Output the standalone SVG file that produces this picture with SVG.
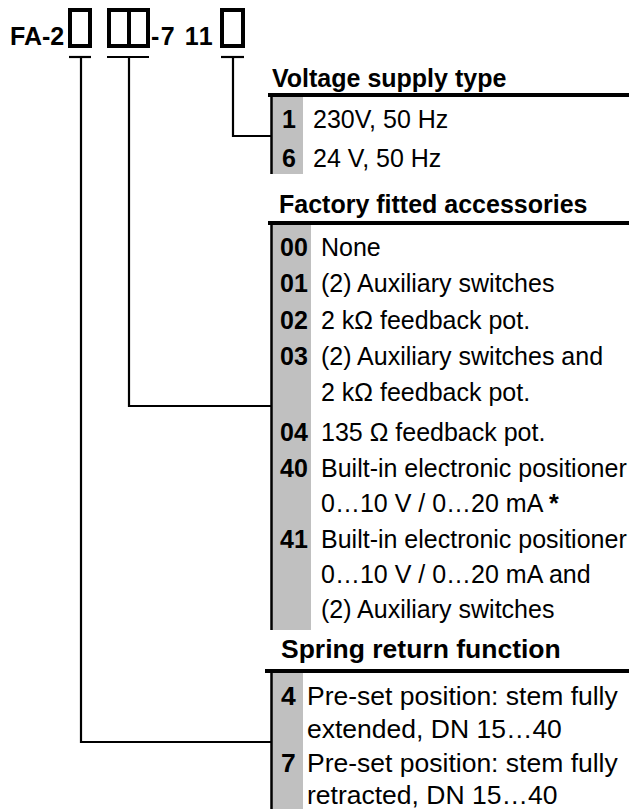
<svg xmlns="http://www.w3.org/2000/svg" width="629" height="809" viewBox="0 0 629 809">
<style>
text{font-family:"Liberation Sans",Arial,sans-serif;fill:#000}
.h{font-size:25px;font-weight:bold}
.t{font-size:25px}
.n{font-size:25px;font-weight:bold}
.hs{font-size:26.5px;font-weight:bold}
.ts{font-size:26.5px}
.box{fill:none;stroke:#000;stroke-width:4}
.ln{fill:none;stroke:#000;stroke-width:2.2}
.thick{stroke:#000;stroke-width:4}
.grey{fill:#c0c0c0}
.border{stroke:#000;stroke-width:2.5}
</style>
<rect width="629" height="809" fill="#fff"/>
<g id="code">
<text class="h" x="10" y="45">FA-2</text>
<rect class="box" x="70" y="10" width="20" height="36"/>
<rect class="box" x="109" y="10" width="39" height="36"/>
<line class="box" x1="129" y1="10" x2="129" y2="46"/>
<text class="h" x="151" y="45" letter-spacing="1.5">-7 11</text>
<rect class="box" x="222" y="10" width="21" height="36"/>
</g>
<g id="connectors">
<line class="ln" x1="69" y1="57" x2="91" y2="57"/>
<line class="ln" x1="107" y1="57" x2="149" y2="57"/>
<line class="ln" x1="221" y1="57" x2="244" y2="57"/>
<polyline class="ln" points="233,57 233,136 271,136"/>
<polyline class="ln" points="129,57 129,406 271,406"/>
<polyline class="ln" points="81,57 81,742 271,742"/>
</g>
<g id="voltage">
<text class="h" x="272" y="87">Voltage supply type</text>
<rect class="grey" x="271" y="97" width="32" height="77"/>
<line class="thick" x1="268" y1="95" x2="629" y2="95"/>
<line class="border" x1="271.5" y1="95" x2="271.5" y2="174"/>
<text class="n" x="282" y="128">1</text>
<text class="t" x="313" y="128">230V, 50 Hz</text>
<text class="n" x="282" y="167">6</text>
<text class="t" x="313" y="167">24 V, 50 Hz</text>
</g>
<g id="accessories">
<text class="h" x="279" y="213">Factory fitted accessories</text>
<rect class="grey" x="271" y="225" width="40" height="405"/>
<line class="thick" x1="268" y1="223" x2="629" y2="223"/>
<line class="border" x1="271.5" y1="223" x2="271.5" y2="630"/>
<text class="n" x="280" y="256">00</text><text class="t" x="321" y="256">None</text>
<text class="n" x="280" y="292">01</text><text class="t" x="321" y="292">(2) Auxiliary switches</text>
<text class="n" x="280" y="329">02</text><text class="t" x="321" y="329">2 kΩ feedback pot.</text>
<text class="n" x="280" y="365">03</text><text class="t" x="321" y="365">(2) Auxiliary switches and</text>
<text class="t" x="321" y="401">2 kΩ feedback pot.</text>
<text class="n" x="280" y="441">04</text><text class="t" x="321" y="441">135 Ω feedback pot.</text>
<text class="n" x="280" y="477">40</text><text class="t" x="321" y="477">Built-in electronic positioner</text>
<text class="t" x="321" y="512">0…10 V / 0…20 mA <tspan font-weight="bold">*</tspan></text>
<text class="n" x="280" y="548">41</text><text class="t" x="321" y="548">Built-in electronic positioner</text>
<text class="t" x="321" y="583">0…10 V / 0…20 mA and</text>
<text class="t" x="321" y="618">(2) Auxiliary switches</text>
</g>
<g id="spring">
<text class="hs" x="281" y="658">Spring return function</text>
<rect class="grey" x="271" y="673" width="32" height="136"/>
<line class="thick" x1="265" y1="671" x2="629" y2="671"/>
<line class="border" x1="271.5" y1="671" x2="271.5" y2="809"/>
<text class="hs" x="281" y="705">4</text><text class="ts" x="307" y="705">Pre-set position: stem fully</text>
<text class="ts" x="307" y="738">extended, DN 15…40</text>
<text class="hs" x="281" y="772">7</text><text class="ts" x="307" y="772">Pre-set position: stem fully</text>
<text class="ts" x="307" y="804">retracted, DN 15…40</text>
</g>
</svg>
